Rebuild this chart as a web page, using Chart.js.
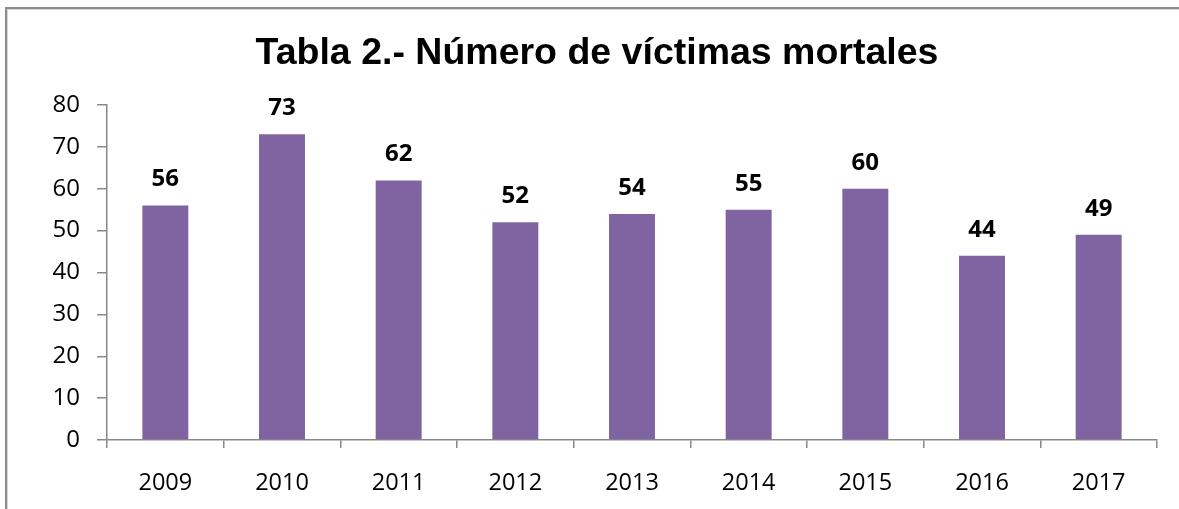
<!DOCTYPE html>
<html>
<head>
<meta charset="utf-8">
<script src="https://cdn.jsdelivr.net/npm/chart.js@4"></script>
<style>
  body { margin: 0; background: #fff; overflow: hidden; }
  #frame { position: absolute; left: 5px; top: 7px; width: 1300px; height: 700px;
           border-left: 2px solid #8c8c8c; border-top: 2px solid #8c8c8c;
           box-shadow: inset 1px 1px 0 #d8d8d8; }
  #wrap { position: absolute; left: 0; top: 0; width: 1179px; height: 509px; }
</style>
</head>
<body>
<div id="frame"></div>
<div id="wrap"><canvas id="myChart" width="1179" height="509"></canvas></div>
<script>
const years = ['2009', '2010', '2011', '2012', '2013', '2014', '2015', '2016', '2017'];
const victims = [56, 73, 62, 52, 54, 55, 60, 44, 49];
const yTicks = [0, 10, 20, 30, 40, 50, 60, 70, 80];

// value labels above each bar
const barLabels = {
    id: 'barLabels',
    afterDatasetsDraw(chart) {
        const ctx = chart.ctx;
        const meta = chart.getDatasetMeta(0);
        ctx.save();
        ctx.font = 'bold 24px "Open Sans"';
        ctx.fillStyle = '#000';
        ctx.textAlign = 'center';
        ctx.textBaseline = 'middle';
        meta.data.forEach((bar, i) => {
            ctx.fillText(String(victims[i]), bar.x, bar.y - 26);
        });
        ctx.restore();
    }
};

const ctx = document.getElementById('myChart').getContext('2d');

const myChart = new Chart(ctx, {
    type: 'bar',
    data: {
        labels: years,
        datasets: [{
            label: 'Víctimas mortales',
            data: victims,
            backgroundColor: '#8064A2',
            borderWidth: 0,
            categoryPercentage: 1,
            barPercentage: 0.394
        }]
    },
    options: {
        responsive: false,
        animation: false,
        layout: { padding: { left: 37, right: 22, top: 0, bottom: 0 } },
        plugins: {
            legend: { display: false },
            tooltip: { enabled: false },
            title: {
                display: true,
                text: 'Tabla 2.- Número de víctimas mortales',
                color: '#000',
                font: { family: '"Liberation Sans", Arial', size: 37.5, weight: 'bold', lineHeight: 1.2 },
                padding: { top: 31, bottom: 29 }
            }
        },
        scales: {
            x: {
                grid: { offset: true, drawOnChartArea: false, drawTicks: true, tickLength: 8, color: '#888', lineWidth: 1.5 },
                border: { display: true, color: '#888', width: 1.5 },
                ticks: { color: '#000', font: { family: '"Open Sans"', size: 23.5 }, padding: 21 },
                afterFit(scale) { scale.height = 69; }
            },
            y: {
                min: 0,
                max: 80,
                afterBuildTicks(scale) { scale.ticks = yTicks.map(v => ({ value: v })); },
                grid: { drawOnChartArea: false, drawTicks: true, tickLength: 10, color: '#888', lineWidth: 1.5 },
                border: { display: true, color: '#888', width: 1.5 },
                ticks: { color: '#000', font: { family: '"Open Sans"', size: 24 }, padding: 17 },
                afterFit(scale) { scale.width = 70; }
            }
        }
    },
    plugins: [barLabels]
});
</script>
</body>
</html>
